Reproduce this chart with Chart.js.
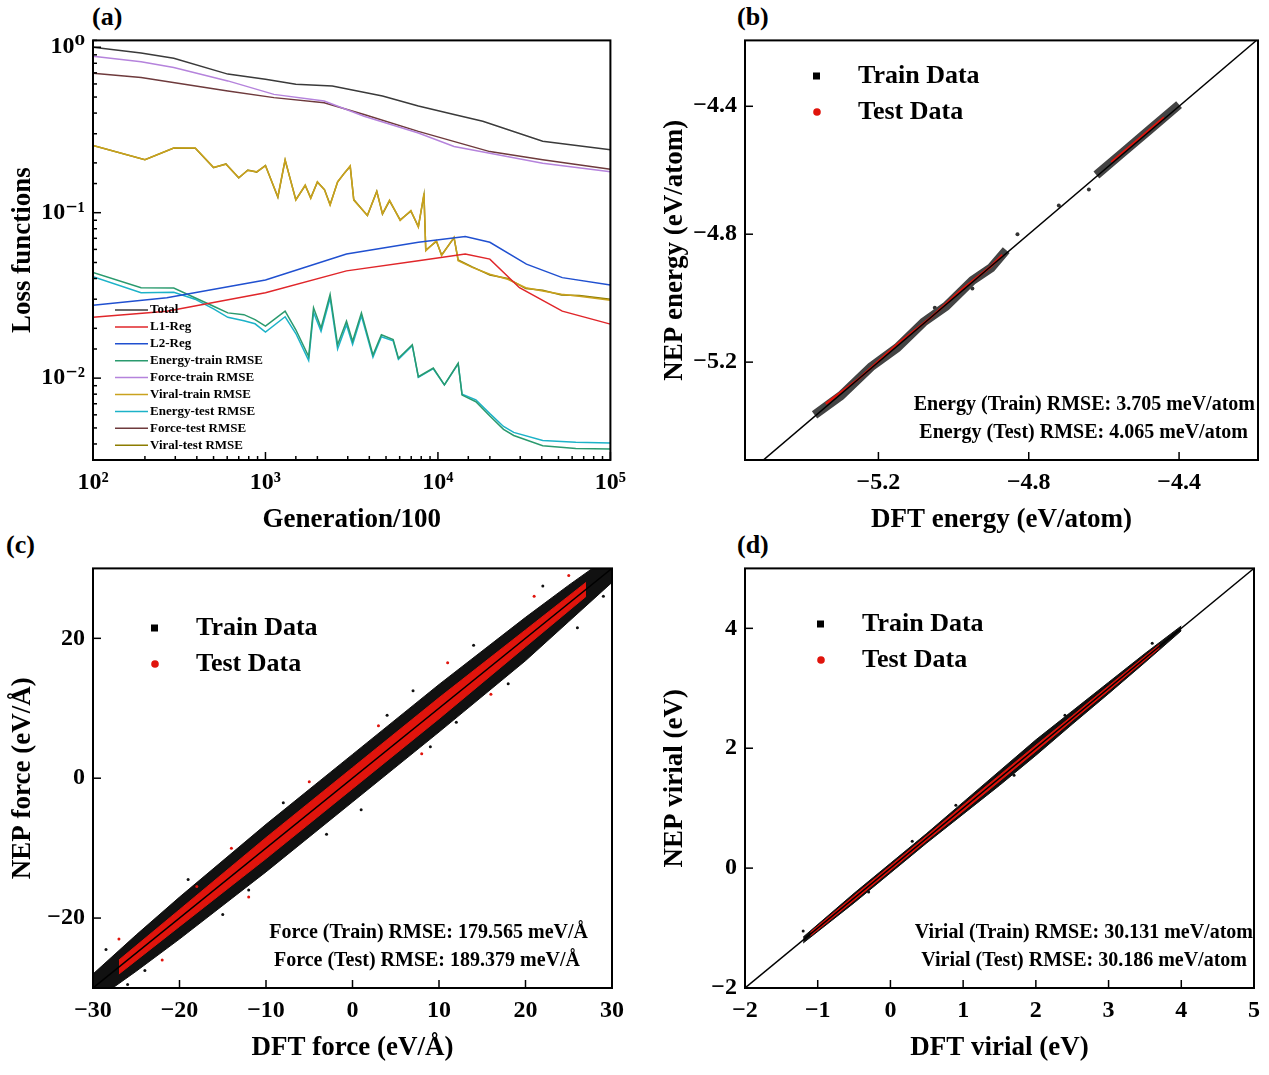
<!DOCTYPE html>
<html lang="en">
<head>
<meta charset="UTF-8">
<title>NEP training results</title>
<script src="https://cdn.jsdelivr.net/npm/chart.js"></script>
<style>
  body { margin: 0; background: #fff; width: 1269px; height: 1075px; position: relative; overflow: hidden; }
  .box { position: absolute; }
  .tag { position: absolute; font: bold 26px "Liberation Serif", serif; }
</style>
</head>
<body>
<div class="tag" style="left:92px;top:2px">(a)</div>
<div class="tag" style="left:737px;top:2px">(b)</div>
<div class="tag" style="left:6px;top:530px">(c)</div>
<div class="tag" style="left:737px;top:530px">(d)</div>
<div class="box" style="left:3px;top:18px;width:631px;height:522px"><canvas id="ca"></canvas></div>
<div class="box" style="left:655px;top:18px;width:613px;height:522px"><canvas id="cb"></canvas></div>
<div class="box" style="left:3px;top:546px;width:629px;height:522px"><canvas id="cc"></canvas></div>
<div class="box" style="left:655px;top:546px;width:613px;height:522px"><canvas id="cd"></canvas></div>
<script>
// ---- (a) loss curves ----
const totalX = [100,190,294,605,1000,1500,2440,4770,7700,12400,18200,40500,100000];
const totalY = [1.0,0.923,0.857,0.688,0.641,0.598,0.584,0.507,0.441,0.392,0.357,0.270,0.240];
const forceTrainX = [100,190,294,605,1120,2190,3730,7700,12400,20000,40500,100000];
const forceTrainY = [0.881,0.818,0.755,0.626,0.519,0.473,0.383,0.303,0.251,0.229,0.199,0.177];
const forceTestX = [100,190,605,1120,2190,3730,7700,20000,40500,100000];
const forceTestY = [0.697,0.656,0.544,0.496,0.462,0.392,0.310,0.234,0.209,0.183];
const regX = [100,268,1000,2950,7700,14400,20000,32600,52600,100000];
const l2Y = [0.0276,0.0306,0.0392,0.0562,0.0662,0.0718,0.0662,0.0489,0.0405,0.0366];
const l1X = [100,268,1000,2950,7700,14400,20000,29700,52600,100000];
const l1Y = [0.0233,0.0254,0.0328,0.0445,0.0512,0.0562,0.0524,0.0352,0.0254,0.0212];
const viralX = [100,200,294,392,500,590,700,790,890,1000,1180,1300,1500,1700,1830,2000,2200,2370,2620,2870,3100,3250,3900,4420,4770,5240,6040,6970,7700,8300,8500,9800,10500,12400,13100,15800,20000,25400,32300,40500,52000,66000,100000];
const viralTrainY = [0.255,0.209,0.246,0.246,0.188,0.196,0.163,0.180,0.177,0.192,0.125,0.209,0.119,0.147,0.122,0.154,0.137,0.111,0.154,0.173,0.192,0.119,0.0964,0.134,0.0986,0.119,0.0898,0.103,0.0818,0.131,0.0589,0.0678,0.055,0.0711,0.0512,0.0467,0.0425,0.0396,0.0352,0.0336,0.0321,0.0313,0.0296];
const viralTestY = [0.255,0.209,0.246,0.245,0.187,0.197,0.162,0.181,0.176,0.193,0.124,0.208,0.120,0.146,0.123,0.153,0.138,0.112,0.153,0.174,0.190,0.120,0.0960,0.135,0.0980,0.118,0.0905,0.102,0.0825,0.128,0.0595,0.0670,0.0556,0.0705,0.0518,0.0470,0.0420,0.0400,0.0348,0.0340,0.0318,0.0316,0.0300];
const energyX = [100,190,294,390,500,605,750,870,1000,1300,1500,1780,1900,2100,2370,2620,2950,3200,3600,4200,4700,5500,5900,7100,7700,9400,10900,13100,13800,16600,20000,24000,27500,40500,63000,100000];
const energyTrainY = [0.0435,0.0352,0.0350,0.0306,0.0272,0.0248,0.0242,0.0226,0.0206,0.0254,0.0196,0.0135,0.0266,0.0201,0.0321,0.0159,0.0221,0.0167,0.0248,0.0138,0.0183,0.0171,0.0132,0.0159,0.0102,0.0115,0.0091,0.0123,0.0079,0.0072,0.0059,0.0049,0.0045,0.0039,0.00376,0.00373];
const energyTestY = [0.0410,0.0328,0.0330,0.0300,0.0262,0.0233,0.0222,0.0213,0.0190,0.0235,0.0186,0.0128,0.0250,0.0192,0.0305,0.0150,0.0210,0.0160,0.0238,0.0134,0.0178,0.0168,0.0130,0.0157,0.0101,0.0114,0.0091,0.0122,0.0080,0.0074,0.0061,0.0051,0.0047,0.0042,0.0041,0.00405];
const lossNames = ['Total','L1-Reg','L2-Reg','Energy-train RMSE','Force-train RMSE','Viral-train RMSE','Energy-test RMSE','Force-test RMSE','Viral-test RMSE'];
const lossColors = ['#3a3a3a','#e0262a','#2050d0','#2a9a6e','#b583dc','#c9a21e','#1cb2c8','#6e3a3c','#8c7c00'];

// ---- (b) energy parity ----
const energyTicks = [-5.2,-4.8,-4.4];
const bTrainX = [-5.37,-5.30,-5.22,-5.15,-5.08,-5.02,-4.95,-4.90,-4.86,null,-4.62,-4.55,-4.48,-4.40];
const bTrainY = [-5.365,-5.305,-5.215,-5.155,-5.075,-5.025,-4.945,-4.905,-4.850,null,-4.615,-4.545,-4.475,-4.395];
const bTestX = [-5.34,-5.25,-5.15,-5.06,-4.98,-4.90,-4.87,null,-4.58,-4.50,-4.44];
const bTestY = [-5.330,-5.250,-5.145,-5.060,-4.975,-4.900,-4.865,null,-4.575,-4.495,-4.435];
const bOutX = [-4.64,-4.83,-5.05,-4.72,-5.28,-4.95];
const bOutY = [-4.66,-4.80,-5.03,-4.71,-5.29,-4.97];

// ---- (c) force parity ----
const forceTicks = [-30,-20,-10,0,10,20,30];
const forceTicksY = [-20,0,20];
const cBandX = [-30,-25,-20,-10,0,10,20,25,30];
const cTrainLo = [-32,-27.6,-23,-13.4,-3.4,6.6,16.8,22.4,28];
const cTrainHi = [-28,-22.4,-17,-6.6,3.4,13.4,23,27.6,32];
const cTestX = [-27,-20,-10,0,10,20,27];
const cTestLo = [-28,-21.2,-11.5,-1.5,8.5,18.8,26];
const cTestHi = [-26,-18.8,-8.5,1.5,11.5,21.2,28];
const cTrainOutX = [-28.5,-24,-19,-15,-8,-3,4,9,14,18,22,26,29,-26,12,-12,7,1];
const cTrainOutY = [-24.5,-27.5,-14.5,-19.5,-3.5,-8,9,4.5,19,13.5,27.5,21.5,26,-29.5,8,-16,12.5,-4.5];
const cTestOutX = [-27,-18,-12,-5,3,8,16,21,-22,11,25,-14];
const cTestOutY = [-23,-15.5,-17,-0.5,7.5,3.5,12,26,-26,16.5,29,-10];

// ---- (d) virial parity ----
const virialTicks = [-2,-1,0,1,2,3,4,5];
const virialTicksY = [-2,0,2,4];
const dBandX = [-1.2,-0.5,0,0.5,1,1.5,2,2.5,3,3.5,4.0];
const dTrainLo = [-1.25,-0.58,-0.08,0.42,0.90,1.38,1.88,2.40,2.91,3.43,3.96];
const dTrainHi = [-1.15,-0.42,0.08,0.58,1.10,1.62,2.14,2.62,3.10,3.58,4.04];
const dTestX = [-1.1,-0.5,0,0.5,1,1.5,2,2.5,3,3.7];
const dTestLo = [-1.13,-0.54,-0.04,0.46,0.95,1.45,1.95,2.46,2.96,3.67];
const dTestHi = [-1.07,-0.46,0.04,0.54,1.05,1.55,2.05,2.54,3.04,3.73];
const dOutX = [-1.2,0.3,1.7,2.4,0.9,3.6,-0.3];
const dOutY = [-1.05,0.45,1.55,2.55,1.05,3.75,-0.4];

const FONT = '"Liberation Serif", "DejaVu Serif", serif';
const sup = {'0':'⁰','1':'¹','2':'²','3':'³','4':'⁴','5':'⁵','-':'⁻'};
const fmtSigned = v => v < 0 ? '\u2212' + Math.abs(v) : String(v);
const pts = (xs, ys) => xs.map((x, i) => x === null ? {x: NaN, y: NaN} : {x, y: ys[i]});

// frame + inward ticks
const frame = {
  id: 'frame',
  afterDraw(chart) {
    const {ctx, chartArea: a} = chart;
    ctx.save();
    ctx.strokeStyle = '#000'; ctx.lineWidth = 2;
    ctx.strokeRect(a.left, a.top, a.right - a.left, a.bottom - a.top);
    ctx.lineWidth = 1.5;
    for (const id of ['x', 'y']) {
      const s = chart.scales[id];
      s.ticks.forEach(t => {
        const p = s.getPixelForValue(t.value);
        const len = t.label ? 8 : 4;
        ctx.beginPath();
        if (id === 'x') { ctx.moveTo(p, a.bottom); ctx.lineTo(p, a.bottom - len); }
        else { ctx.moveTo(a.left, p); ctx.lineTo(a.left + len, p); }
        ctx.stroke();
      });
    }
    ctx.restore();
  }
};

function notes(items) {
  return {
    id: 'notes',
    afterDraw(chart) {
      const ctx = chart.ctx;
      ctx.save();
      items.forEach(it => {
        ctx.font = 'bold ' + it.size + 'px ' + FONT;
        ctx.fillStyle = '#000';
        ctx.textBaseline = 'middle';
        ctx.textAlign = it.align || 'left';
        if (it.line) {
          ctx.strokeStyle = it.line; ctx.lineWidth = 1.5;
          ctx.beginPath(); ctx.moveTo(it.x - 35, it.y); ctx.lineTo(it.x - 2, it.y); ctx.stroke();
        }
        if (it.square) { ctx.fillRect(it.x - 45, it.y - 3.5, 7, 7); }
        if (it.dot) { ctx.fillStyle = '#e0140c'; ctx.beginPath(); ctx.arc(it.x - 41, it.y, 3.8, 0, 7); ctx.fill(); ctx.fillStyle = '#000'; }
        ctx.fillText(it.text, it.x, it.y);
      });
      ctx.restore();
    }
  };
}

function axis(title, min, max, ticks, fmt, isY, type) {
  const o = {
    type: type || 'linear', min, max,
    grid: {display: false, drawTicks: false},
    border: {display: false},
    title: {display: true, text: title, color: '#000', font: {family: FONT, size: 27, weight: 'bold'}, padding: isY ? {bottom: 4} : {top: 6}},
    ticks: {color: '#000', font: {family: FONT, size: 24, weight: 'bold'}, padding: 8, maxRotation: 0, autoSkip: false, callback: fmt},
    afterFit: s => { if (isY) s.width = 90; else s.height = 80; }
  };
  if (ticks) o.afterBuildTicks = s => { s.ticks = ticks.map(v => ({value: v})); };
  return o;
}

const baseOpts = (x, y) => ({
  responsive: true, maintainAspectRatio: false, animation: false,
  layout: {padding: {top: 10, right: 10}},
  plugins: {legend: {display: false}, tooltip: {enabled: false}},
  scales: {x, y}
});

// (a)
const logFmt = v => {
  const e = Math.log10(v);
  if (Math.abs(e - Math.round(e)) > 1e-6) return '';
  return '10' + String(Math.round(e)).split('').map(c => sup[c]).join('');
};
const aSeries = [
  pts(totalX, totalY), pts(l1X, l1Y), pts(regX, l2Y), pts(energyX, energyTrainY),
  pts(forceTrainX, forceTrainY), pts(viralX, viralTrainY), pts(energyX, energyTestY),
  pts(forceTestX, forceTestY), pts(viralX, viralTestY)
];
new Chart(document.getElementById('ca'), {
  type: 'line',
  data: {datasets: aSeries.map((d, i) => ({label: lossNames[i], data: d, borderColor: lossColors[i], borderWidth: 1.5, pointRadius: 0, tension: 0}))},
  options: baseOpts(
    axis('Generation/100', 100, 100000, null, logFmt, false, 'logarithmic'),
    axis('Loss functions', 0.0032, 1.1, null, logFmt, true, 'logarithmic')
  ),
  plugins: [frame, notes(lossNames.map((n, i) => ({text: n, x: 147, y: 292 + i * 16.9, size: 13, line: lossColors[i]})))]
});

// parity helper
function parity(id, lim, xTicks, yTicks, xTitle, yTitle, sets, labels) {
  const diag = {data: [{x: lim[0] - 1, y: lim[0] - 1}, {x: lim[1] + 1, y: lim[1] + 1}], borderColor: '#000', borderWidth: 1.5, pointRadius: 0, order: 0};
  new Chart(document.getElementById(id), {
    type: 'line',
    data: {datasets: [diag].concat(sets)},
    options: baseOpts(
      axis(xTitle, lim[0], lim[1], xTicks, fmtSigned, false),
      axis(yTitle, lim[2], lim[3], yTicks, fmtSigned, true)
    ),
    plugins: [frame, notes(labels)]
  });
}
const bandSet = (xs, lo, hi, color, order) => [
  {data: pts(xs, lo), borderColor: color, borderWidth: 1, pointRadius: 0, tension: 0, order},
  {data: pts(xs, hi), borderColor: color, borderWidth: 1, pointRadius: 0, tension: 0, fill: '-1', backgroundColor: color, order}
];
const dots = (xs, ys, color, r, order) => ({data: pts(xs, ys), showLine: false, pointRadius: r, pointBackgroundColor: color, pointBorderWidth: 0, order});

// (b)
parity('cb', [-5.555, -4.19, -5.506, -4.194], energyTicks, energyTicks, 'DFT energy (eV/atom)', 'NEP energy (eV/atom)', [
  {data: pts(bTrainX, bTrainY), borderColor: '#444', borderWidth: 9, pointRadius: 0, tension: 0, spanGaps: false, order: 3},
  {data: pts(bTestX, bTestY), borderColor: '#e0140c', borderWidth: 2.5, pointRadius: 0, tension: 0, spanGaps: false, order: 2},
  dots(bOutX, bOutY, '#333', 2, 3)
], [
  {text: 'Train Data', x: 203, y: 58, size: 26, square: true},
  {text: 'Test Data', x: 203, y: 94, size: 26, dot: true},
  {text: 'Energy (Train) RMSE: 3.705 meV/atom', x: 600, y: 387, size: 20, align: 'right'},
  {text: 'Energy (Test) RMSE: 4.065 meV/atom', x: 593, y: 415, size: 20, align: 'right'}
]);

// (c)
parity('cc', [-30, 30, -30, 30], forceTicks, forceTicksY, 'DFT force (eV/\u00c5)', 'NEP force (eV/\u00c5)', [
  ...bandSet(cBandX, cTrainLo, cTrainHi, '#111', 4),
  ...bandSet(cTestX, cTestLo, cTestHi, '#e0140c', 3),
  dots(cTrainOutX, cTrainOutY, '#111', 1.5, 4),
  dots(cTestOutX, cTestOutY, '#e0140c', 1.5, 3)
], [
  {text: 'Train Data', x: 193, y: 82, size: 26, square: true},
  {text: 'Test Data', x: 193, y: 118, size: 26, dot: true},
  {text: 'Force (Train) RMSE: 179.565 meV/\u00c5', x: 585, y: 387, size: 20, align: 'right'},
  {text: 'Force (Test) RMSE: 189.379 meV/\u00c5', x: 577, y: 415, size: 20, align: 'right'}
]);

// (d)
parity('cd', [-2, 5, -2, 5], virialTicks, virialTicksY, 'DFT virial (eV)', 'NEP virial (eV)', [
  ...bandSet(dBandX, dTrainLo, dTrainHi, '#111', 4),
  ...bandSet(dTestX, dTestLo, dTestHi, '#e0140c', 3),
  dots(dOutX, dOutY, '#111', 1.5, 4)
], [
  {text: 'Train Data', x: 207, y: 78, size: 26, square: true},
  {text: 'Test Data', x: 207, y: 114, size: 26, dot: true},
  {text: 'Virial (Train) RMSE: 30.131 meV/atom', x: 598, y: 387, size: 20, align: 'right'},
  {text: 'Virial (Test) RMSE: 30.186 meV/atom', x: 592, y: 415, size: 20, align: 'right'}
]);
</script>
</body>
</html>
